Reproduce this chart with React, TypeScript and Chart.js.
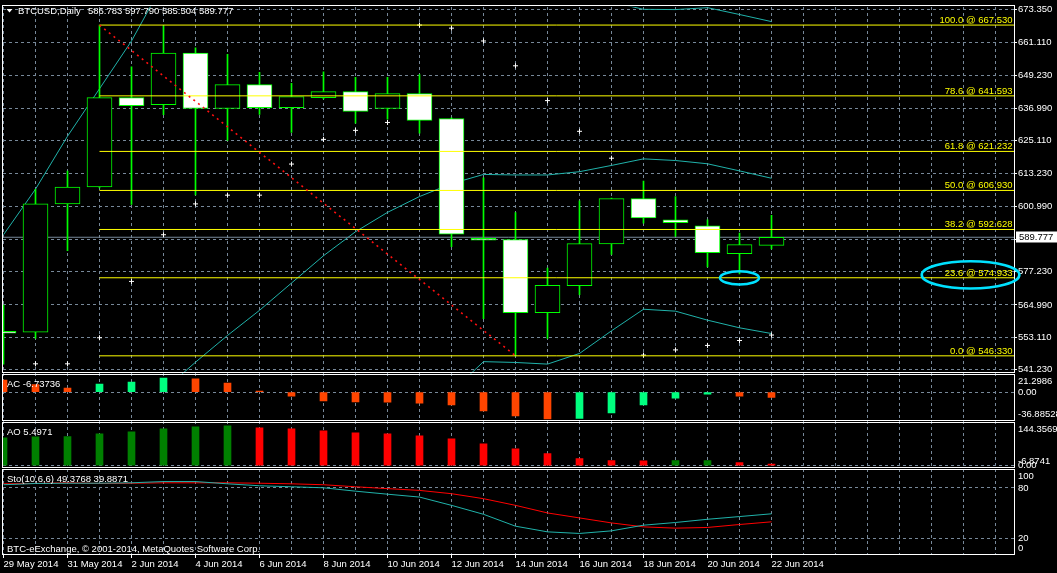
import React, { useEffect, useRef } from "react";
import { Chart, registerables } from "chart.js";

Chart.register(...registerables);

// ---------------- data ----------------
const symbolName = "BTCUSD,Daily";
const copyrightText = "BTC-eExchange, © 2001-2014, MetaQuotes Software Corp.";

const dates = [
  "29 May 2014", "30 May 2014", "31 May 2014", "1 Jun 2014", "2 Jun 2014", "3 Jun 2014",
  "4 Jun 2014", "5 Jun 2014", "6 Jun 2014", "7 Jun 2014", "8 Jun 2014", "9 Jun 2014",
  "10 Jun 2014", "11 Jun 2014", "12 Jun 2014", "13 Jun 2014", "14 Jun 2014", "15 Jun 2014",
  "16 Jun 2014", "17 Jun 2014", "18 Jun 2014", "19 Jun 2014", "20 Jun 2014", "21 Jun 2014",
  "22 Jun 2014",
];

const opens = [555.3, 555.0, 602.0, 608.2, 640.95, 638.4, 657.3, 636.95, 645.7, 637.3, 640.95, 643.15, 636.95, 642.4, 633.3, 589.4, 588.9, 562.15, 572.0, 587.3, 603.95, 596.15, 594.0, 583.8, 586.783];
const highs = [564.9, 607.3, 614.0, 667.53, 652.2, 667.3, 659.15, 656.8, 650.25, 646.15, 650.4, 648.35, 648.35, 649.35, 633.5, 611.55, 598.85, 578.45, 603.1, 604.1, 610.35, 604.65, 596.15, 591.3, 597.79];
const lows = [543.25, 552.7, 584.9, 607.9, 601.85, 634.7, 605.25, 625.3, 634.75, 628.2, 640.5, 631.6, 633.05, 627.95, 586.35, 559.95, 546.33, 552.75, 568.75, 583.5, 594.95, 590.1, 578.9, 576.35, 585.504];
const closes = [554.6, 602.0, 608.2, 640.95, 638.0, 657.3, 636.95, 645.7, 637.3, 641.3, 643.15, 635.85, 642.4, 632.6, 590.95, 588.7, 562.15, 572.15, 587.45, 603.95, 596.9, 595.1, 584.15, 587.05, 589.777];

const bbUpper = [590.7, 607.4, 626.8, 644.2, 661.7, 683.0, null, null, null, null, null, null, null, null, null, null, null, null, null, 676.0, 673.3, 673.2, 673.9, 671.4, 668.8];
const bbMiddle = [null, null, null, null, null, 533.7, 544.0, 553.8, 563.0, 573.0, 583.0, 591.8, 598.9, 604.7, 609.4, 612.8, 612.6, 612.6, 613.8, 616.1, 618.5, 617.9, 616.7, 614.1, 611.4];
const bbLower = [null, null, null, null, null, null, null, null, null, null, null, null, null, null, 533.1, 544.2, 543.9, 543.3, 547.2, 555.5, 563.4, 562.7, 559.4, 556.6, 554.5];

const sarValues = [null, 543.4, 543.4, 552.95, 573.6, 590.7, 602.0, 605.2, 605.2, 616.6, 625.65, 628.95, 631.85, 667.53, 666.4, 661.7, 652.6, 639.85, 628.6, 618.75, 546.6, 548.5, 550.15, 551.95, 553.95];

const fibPercents = [100.0, 78.6, 61.8, 50.0, 38.2, 23.6, 0.0];
const fibPrices = [667.53, 641.593, 621.232, 606.93, 592.628, 574.933, 546.33];
const fibFromIndex = 3;
const fibToIndex = 16;

const priceTicks = [673.35, 661.11, 649.23, 636.99, 625.11, 613.23, 600.99, 589.11, 577.23, 564.99, 553.11, 541.23];

const acValues = [15.35, 9.8, 5.1, 10.2, 12.8, 17.9, 17.0, 11.5, 1.3, -5.1, -11.5, -12.8, -12.9, -14.1, -16.6, -24.3, -30.7, -34.6, -33.9, -26.9, -16.6, -7.7, -2.6, -5.1, -6.73736];
const acFirstUp = false;
const acAxisValues = [21.2986, 0, -36.88528];
const acAxisLabels = ["21.2986", "0.00", "-36.88528"];

const aoValues = [96.3, 99.7, 100.2, 110.0, 116.9, 127.2, 134.1, 137.5, 130.6, 127.2, 120.3, 113.4, 110.0, 103.1, 92.8, 75.6, 58.4, 41.3, 24.1, 17.2, 16.9, 17.3, 17.6, 10.3, 5.4971];
const aoFirstUp = true;
const aoAxisValues = [144.3569, 0, -6.8741];
const aoAxisLabels = ["144.3569", "0.00", "-6.8741"];

const stoMain = [83.8, 85.3, 85.6, 85.6, 86.1, 87.6, 87.6, 84.9, 82.6, 81.4, 80.2, 76.2, 72.6, 69.2, 59.4, 48.8, 34.7, 28.0, 26.1, 29.2, 35.9, 39.1, 42.9, 46.1, 49.3768];
const stoSignal = [84.9, 85.3, 86.1, 85.3, 85.6, 86.1, 86.1, 86.1, 85.6, 84.9, 83.8, 81.4, 79.2, 77.1, 73.2, 67.3, 59.4, 50.4, 44.5, 38.6, 33.9, 32.4, 33.2, 36.7, 39.8871];
const stoAxisValues = [100, 80, 20, 0];
const stoAxisLabels = ["100", "80", "20", "0"];

// hand-drawn ellipse annotations (in bar index / price units)
const ellipseCenters = [23.0, 30.22];
const ellipsePrices = [574.9, 575.99];
const ellipseHalfBars = [0.61, 1.525];
const ellipseHalfPrices = [2.44, 4.99];

// ---------------- styles ----------------
const FONT = '"Liberation Sans", Arial, sans-serif';
const FS = 9.5;
const GRID = "rgb(119,136,153)";
const LIME = "#00ff00";
const YELLOW = "#ffff00";
const SEA = "rgb(32,178,170)";

const X_MIN = -1 / 64;
const X_MAX = 31.578125;

export default function App() {
  const ref = useRef<HTMLCanvasElement | null>(null);

  useEffect(() => {
    document.body.style.margin = "0";
    document.body.style.background = "#000";
    const canvas = ref.current;
    if (!canvas) return;
    const N = closes.length;
    const idx = Array.from({ length: N }, (_, i) => i);
    const series = (arr: (number | null)[]) => arr.map((v, i) => ({ x: i, y: v }));
    const upColors = (arr: number[], firstUp: boolean, up: string, down: string) =>
      arr.map((v, i) => ((i === 0 ? firstUp : v > arr[i - 1]) ? up : down));

    const flat = (y: number, x0: number, x1: number) => [{ x: x0, y }, { x: x1, y }];
    const lastClose = closes[N - 1];

    const datasets: any[] = [
      {
        type: "line", yAxisID: "yMain", order: 0,
        data: [{ x: fibFromIndex, y: fibPrices[0] }, { x: fibToIndex, y: fibPrices[fibPrices.length - 1] }],
        borderColor: "#ff1010", borderWidth: 1.6, borderDash: [2, 4], pointRadius: 0,
      },
      ...fibPrices.map((p) => ({
        type: "line", yAxisID: "yMain", order: 1,
        data: flat(p, fibFromIndex, X_MAX),
        borderColor: YELLOW, borderWidth: 1, pointRadius: 0,
      })),
      {
        type: "line", yAxisID: "yMain", order: 2, showLine: false,
        data: series(sarValues),
        pointStyle: "cross", pointRadius: 2.5, pointBorderColor: "#ffffff", pointBorderWidth: 1,
        borderColor: "#ffffff",
      },
      {
        type: "bar", yAxisID: "yMain", order: 5, grouped: false,
        data: idx.map((i) => ({ x: i, y: [opens[i], closes[i]] })),
        backgroundColor: idx.map((i) => (closes[i] >= opens[i] ? "#000000" : "#ffffff")),
        borderColor: LIME, borderWidth: 1, borderSkipped: false, barThickness: 25,
      },
      {
        type: "bar", yAxisID: "yMain", order: 6, grouped: false,
        data: idx.map((i) => ({ x: i, y: [lows[i], highs[i]] })),
        backgroundColor: LIME, borderWidth: 0, barThickness: 1,
      },
      {
        type: "line", yAxisID: "yMain", order: 7,
        data: flat(lastClose, X_MIN, X_MAX),
        borderColor: GRID, borderWidth: 1, pointRadius: 0,
      },
      ...[bbUpper, bbMiddle, bbLower].map((arr) => ({
        type: "line", yAxisID: "yMain", order: 8, spanGaps: false,
        data: series(arr), borderColor: SEA, borderWidth: 1, pointRadius: 0,
      })),
      {
        type: "bar", yAxisID: "yAC", order: 10, grouped: false,
        data: series(acValues),
        backgroundColor: upColors(acValues, acFirstUp, "#00ff7f", "#ff4500"),
        borderWidth: 0, barThickness: 7,
      },
      {
        type: "bar", yAxisID: "yAO", order: 10, grouped: false,
        data: series(aoValues),
        backgroundColor: upColors(aoValues, aoFirstUp, "#008000", "#ff0000"),
        borderWidth: 0, barThickness: 7,
      },
      {
        type: "line", yAxisID: "ySto", order: 10,
        data: series(stoMain), borderColor: SEA, borderWidth: 1, pointRadius: 0,
      },
      {
        type: "line", yAxisID: "ySto", order: 11,
        data: series(stoSignal), borderColor: "#ff0000", borderWidth: 1, pointRadius: 0,
      },
    ];

    const subAxis = (min: number, max: number, weight: number, gridVals: number[]) => ({
      type: "linear", position: "right", stack: "panes", stackWeight: weight,
      min, max,
      afterBuildTicks: (s: any) => { s.ticks = gridVals.map((v) => ({ value: v })); },
      afterFit: (s: any) => { s.width = 43; },
      ticks: { display: false },
      grid: { color: GRID, drawTicks: false, lineWidth: 1 },
      border: { display: false, dash: [3, 3] },
    });

    const drawTimeGrid = (chart: any) => {
      const c = chart.ctx;
      const area = chart.chartArea;
      const sx = chart.scales.x;
      c.save();
      for (let i = 0; i <= Math.floor(X_MAX); i++) {
        const col = Math.round(sx.getPixelForValue(i) - 0.5);
        if (col < area.left || col > area.right) continue;
        c.fillStyle = GRID;
        for (let y = Math.ceil(area.top); y < area.bottom; y += 6) {
          c.fillRect(col, y, 1, Math.min(3, area.bottom - y));
        }
        if (i % 2 === 0 && i < dates.length) {
          c.fillStyle = "#ffffff";
          c.fillRect(col, Math.round(area.bottom), 1, 3);
        }
      }
      c.restore();
    };

    const chromePlugin = {
      id: "mtChrome",
      beforeDraw(chart: any) {
        const c = chart.ctx;
        c.save();
        c.fillStyle = "#000";
        c.fillRect(0, 0, chart.width, chart.height);
        c.restore();
      },
      beforeDatasetsDraw(chart: any) {
        drawTimeGrid(chart);
      },
      afterDraw(chart: any) {
        const c = chart.ctx;
        const area = chart.chartArea;
        const sMain = chart.scales.yMain;
        const sx = chart.scales.x;
        const panes = ["yMain", "yAC", "yAO", "ySto"].map((id) => chart.scales[id]);
        const xl = area.left - 0.5;
        const xr = area.right + 0.5;
        const bounds = panes.map((s: any, i: number) => ({
          t: Math.floor(s.top) + 0.5 + (i === 0 ? -1 : 1),
          b: Math.floor(s.bottom) - 0.5,
        }));
        c.save();
        c.strokeStyle = "#ffffff";
        c.lineWidth = 1;
        bounds.forEach((bd) => c.strokeRect(xl, bd.t, xr - xl, bd.b - bd.t));

        c.font = `${FS}px ${FONT}`;
        c.textBaseline = "alphabetic";

        c.fillStyle = YELLOW;
        c.textAlign = "right";
        fibPrices.forEach((p, i) => {
          const py = sMain.getPixelForValue(p);
          c.fillText(`${fibPercents[i].toFixed(1)} @ ${p.toFixed(3)}`, area.right - 1.5, py - 2.2);
        });

        c.fillStyle = "#ffffff";
        c.textAlign = "left";
        c.beginPath();
        c.moveTo(6.5, 9);
        c.lineTo(12.5, 9);
        c.lineTo(9.5, 12.5);
        c.closePath();
        c.fill();
        c.fillText(symbolName, 18, 14);
        const N2 = closes.length - 1;
        c.fillText(
          `${opens[N2].toFixed(3)} ${highs[N2].toFixed(3)} ${lows[N2].toFixed(3)} ${closes[N2].toFixed(3)}`,
          88, 14
        );

        c.fillText(`AC ${acValues[N2]}`, 7, bounds[1].t + 12.5);
        c.fillText(`AO ${aoValues[N2]}`, 7, bounds[2].t + 12.5);
        c.fillText(`Sto(10,6,6) ${stoMain[N2]} ${stoSignal[N2]}`, 7, bounds[3].t + 12.5);
        c.fillText(copyrightText, 7, bounds[3].b - 3);

        const drawAxis = (s: any, bd: any, vals: number[], labels: string[]) => {
          c.textBaseline = "middle";
          vals.forEach((v, i) => {
            let y = s.getPixelForValue(v);
            if (i === 0) y = bd.t + 6.5;
            else if (i === vals.length - 1) y = bd.b - 6;
            c.fillText(labels[i], area.right + 4, y);
          });
        };
        drawAxis(panes[1], bounds[1], acAxisValues, acAxisLabels);
        drawAxis(panes[2], bounds[2], aoAxisValues, aoAxisLabels);
        drawAxis(panes[3], bounds[3], stoAxisValues, stoAxisLabels);

        const py = Math.round(sMain.getPixelForValue(lastClose));
        c.fillStyle = "#ffffff";
        c.fillRect(area.right + 2, py - 5.5, chart.width - area.right - 2, 11);
        c.fillStyle = "#000000";
        c.textBaseline = "middle";
        c.fillText(lastClose.toFixed(3), area.right + 5, py + 0.5);

        c.strokeStyle = "rgb(0,225,255)";
        c.lineWidth = 2.6;
        ellipseCenters.forEach((cx, i) => {
          const px = sx.getPixelForValue(cx);
          const pyy = sMain.getPixelForValue(ellipsePrices[i]);
          const rx = sx.getPixelForValue(cx + ellipseHalfBars[i]) - px;
          const ry = pyy - sMain.getPixelForValue(ellipsePrices[i] + ellipseHalfPrices[i]);
          c.beginPath();
          c.ellipse(px, pyy, rx, ry, 0, 0, Math.PI * 2);
          c.stroke();
        });
        c.restore();
      },
    };

    const chart = new Chart(canvas, {
      type: "bar",
      data: { datasets },
      plugins: [chromePlugin],
      options: {
        animation: false,
        responsive: false,
        devicePixelRatio: 1,
        events: [],
        layout: { padding: { left: 3, top: 3, right: 0, bottom: 0 }, autoPadding: false },
        plugins: { legend: { display: false }, tooltip: { enabled: false }, title: { display: false } },
        scales: {
          x: {
            type: "linear", position: "bottom", min: X_MIN, max: X_MAX, offset: false,
            afterBuildTicks: (s: any) => {
              const t = [];
              for (let i = 0; i <= Math.floor(X_MAX); i++) t.push({ value: i });
              s.ticks = t;
            },
            afterFit: (s: any) => { s.height = 18; },
            ticks: {
              autoSkip: false, maxRotation: 0, minRotation: 0, align: "start",
              color: "#ffffff", font: { family: FONT, size: FS }, padding: 1,
              callback: (v: any) => {
                const i = Math.round(Number(v));
                return i % 2 === 0 && i < dates.length ? dates[i] : "";
              },
            },
            grid: {
              color: "rgba(0,0,0,0)", offset: false, lineWidth: 1, drawTicks: true, tickLength: 3,
              tickColor: "rgba(0,0,0,0)",
            },
            border: { display: false },
          },
          yMain: {
            type: "linear", position: "right", stack: "panes", stackWeight: 369.5,
            min: 539.774, max: 674.26,
            afterBuildTicks: (s: any) => { s.ticks = priceTicks.map((v) => ({ value: v })); },
            afterFit: (s: any) => { s.width = 43; },
            ticks: {
              color: "#ffffff", font: { family: FONT, size: FS }, padding: 1,
              callback: (v: any) => Number(v).toFixed(3),
            },
            grid: { color: GRID, drawTicks: true, tickLength: 3, tickColor: "#ffffff", lineWidth: 1 },
            border: { display: false, dash: [3, 3] },
          },
          yAC: subAxis(-38.36, 23.66, 48.5, [0]),
          yAO: subAxis(-10.31, 151.25, 47, [0]),
          ySto: subAxis(0.59, 102.94, 87, [80, 20]),
        },
      } as any,
    } as any);

    return () => chart.destroy();
  }, []);

  return (
    <canvas
      ref={ref}
      width={1057}
      height={573}
      style={{ display: "block", width: 1057, height: 573 }}
    />
  );
}
